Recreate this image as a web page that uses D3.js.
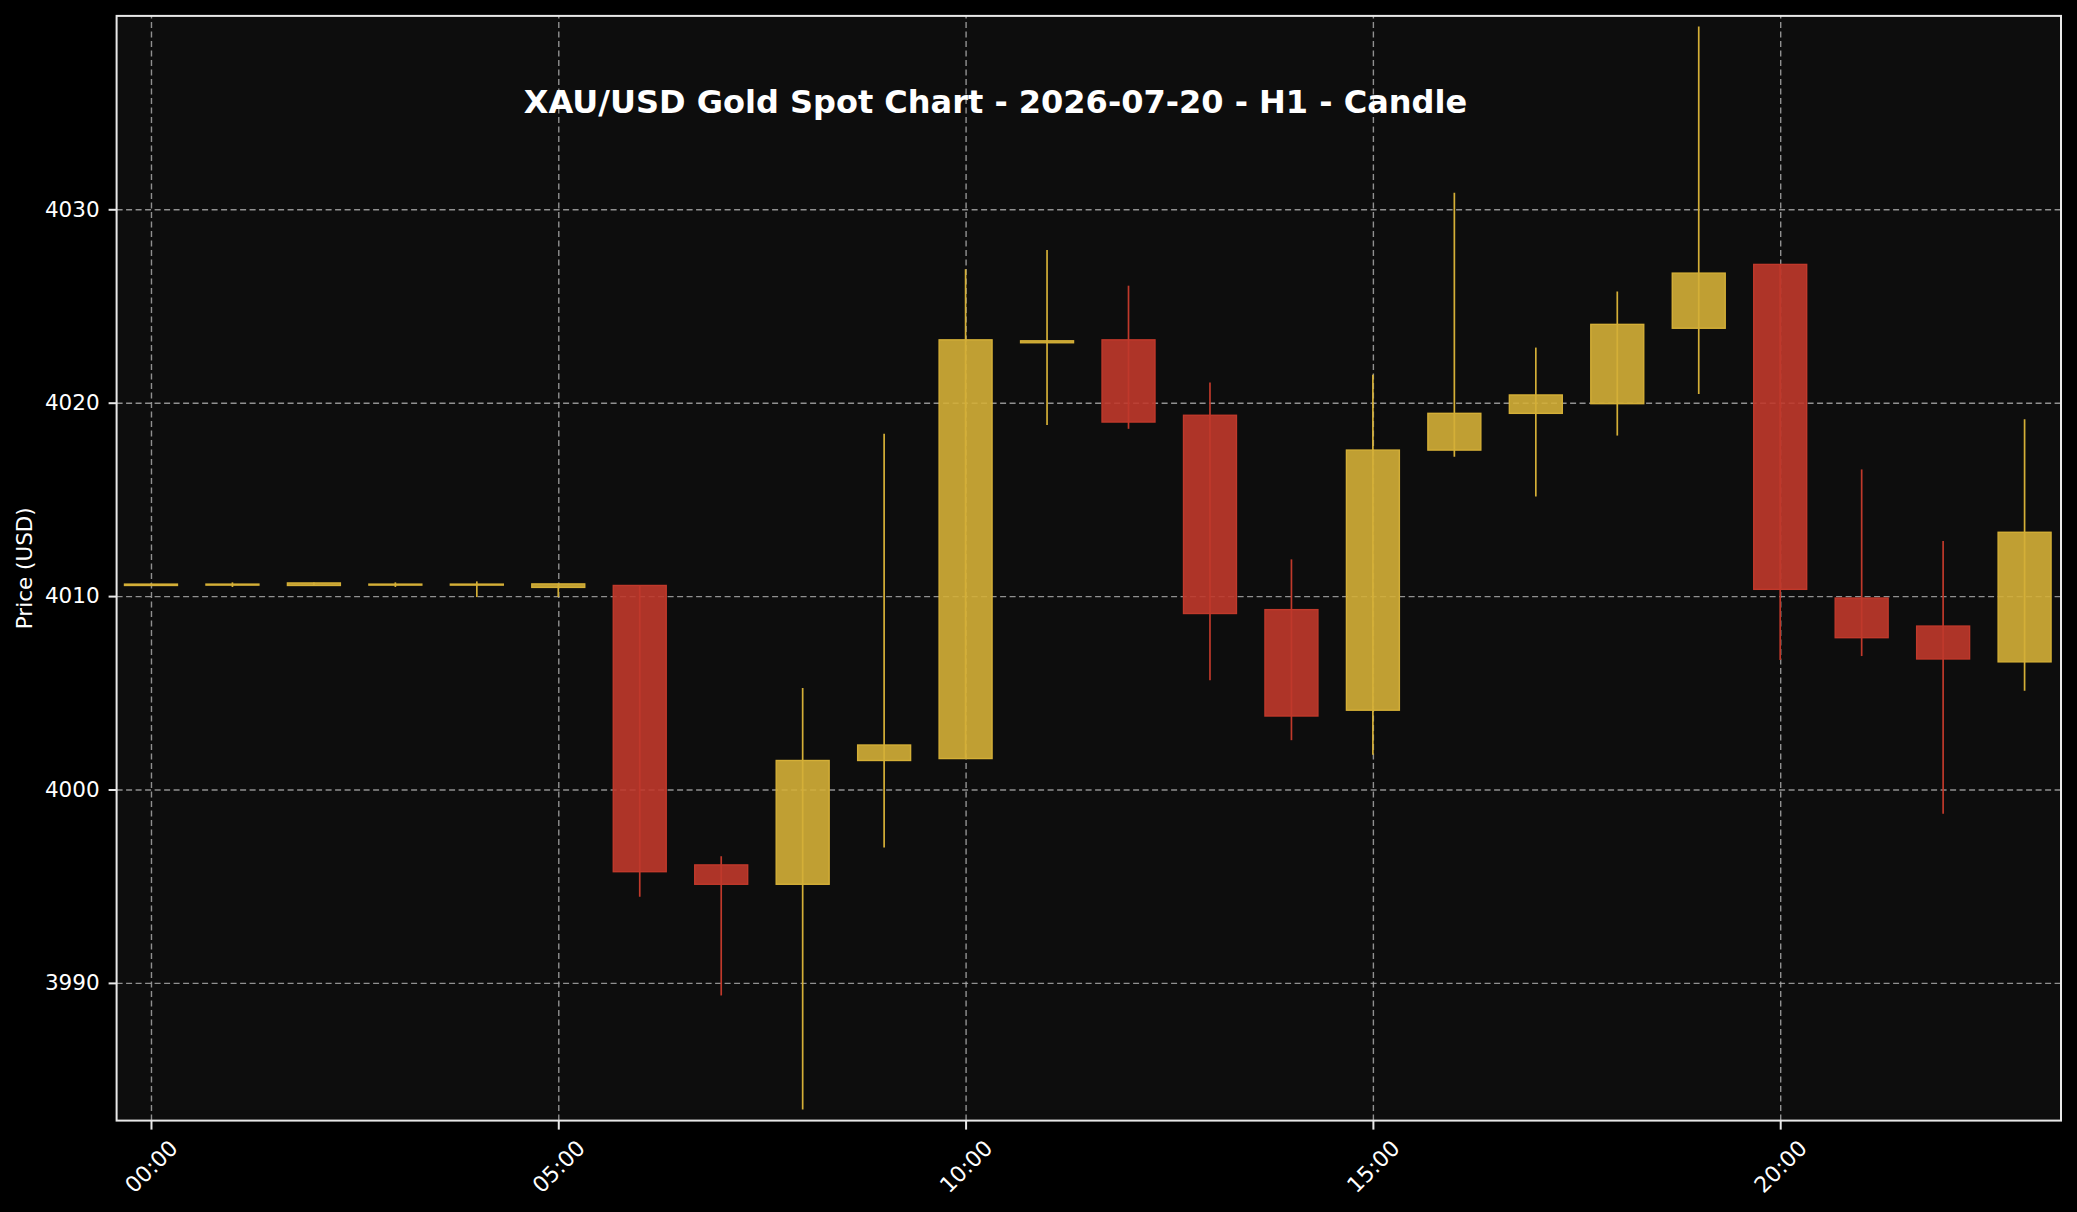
<!DOCTYPE html>
<html>
<head>
<meta charset="utf-8">
<script src="https://cdn.jsdelivr.net/npm/d3@7"></script>
<style>
  body { margin: 0; background: #000; }
  svg { display: block; }
</style>
</head>
<body>
<div id="chart"></div>
<script>
// hourly candles, 2026-07-20
var hours = [0, 1, 2, 3, 4, 5, 6, 7, 8, 9, 10, 11, 12, 13, 14, 15, 16, 17, 18, 19, 20, 21, 22, 23]
var opens = [4010.55, 4010.58, 4010.55, 4010.58, 4010.58, 4010.45, 4010.55, 3996.1, 3995.1, 4001.5, 4001.6, 4023.1, 4023.25, 4019.35, 4009.3, 4004.1, 4017.55, 4019.45, 4019.95, 4023.85, 4027.15, 4009.9, 4008.45, 4006.6]
var highs = [4010.65, 4010.71, 4010.7, 4010.71, 4010.76, 4010.65, 4010.55, 3996.55, 4005.25, 4018.4, 4026.9, 4027.9, 4026.05, 4021.05, 4011.9, 4021.45, 4030.85, 4022.85, 4025.75, 4039.45, 4027.15, 4016.55, 4012.85, 4019.15]
var lows = [4010.55, 4010.47, 4010.55, 4010.47, 4009.95, 4009.95, 3994.45, 3989.35, 3983.45, 3997.0, 4001.6, 4018.85, 4018.65, 4005.65, 4002.55, 4001.8, 4017.2, 4015.15, 4018.3, 4020.45, 4006.7, 4006.9, 3998.75, 4005.1]
var closes = [4010.62, 4010.62, 4010.68, 4010.62, 4010.62, 4010.63, 3995.75, 3995.1, 4001.5, 4002.3, 4023.25, 4023.2, 4019.0, 4009.1, 4003.8, 4017.55, 4019.45, 4020.4, 4024.05, 4026.7, 4010.35, 4007.85, 4006.75, 4013.3]

var xTicks = [0, 5, 10, 15, 20]
var xTickLabels = ['00:00', '05:00', '10:00', '15:00', '20:00']
var yTicks = [3990, 4000, 4010, 4020, 4030]

var title = 'XAU/USD Gold Spot Chart - 2026-07-20 - H1 - Candle'

var W = 2077
var H = 1212
var margin = { top: 15.9, right: 16, bottom: 91.4, left: 116.6 }
var width = W - margin.left - margin.right
var height = H - margin.top - margin.bottom

var upColor = '#d4af37'
var downColor = '#c0392b'
var font = 'DejaVu Sans, sans-serif'

var candles = hours.map(function(h, i) {
  return { hour: h, open: opens[i], high: highs[i], low: lows[i], close: closes[i] }
})

var svg = d3
  .select('#chart')
  .append('svg')
  .attr('width', W)
  .attr('height', H)
  .style('background', '#000')

var g = svg
  .append('g')
  .attr('transform', 'translate(' + margin.left + ',' + margin.top + ')')

g.append('rect')
  .attr('width', width)
  .attr('height', height)
  .attr('fill', '#0d0d0d')

var x = d3.scaleLinear().domain([-0.422, 23.447]).range([0, width])
var y = d3.scaleLinear().domain([3982.88, 4040.0]).range([height, 0])

// grid
g.append('g')
  .attr('class', 'grid')
  .call(d3.axisLeft(y).tickValues(yTicks).tickSize(-width).tickFormat(''))
  .call(function(s) { s.select('.domain').remove() })
g.append('g')
  .attr('class', 'grid')
  .attr('transform', 'translate(0,' + height + ')')
  .call(d3.axisBottom(x).tickValues(xTicks).tickSize(-height).tickFormat(''))
  .call(function(s) { s.select('.domain').remove() })
g.selectAll('.grid line')
  .attr('stroke', '#a8a8a8')
  .attr('stroke-opacity', 0.85)
  .attr('stroke-width', 1.4)
  .attr('stroke-dasharray', '6,3.5')

// candles
var bw = x(0.65) - x(0)

var c = g
  .selectAll('.candle')
  .data(candles)
  .enter()
  .append('g')
  .attr('class', 'candle')

c.append('line')
  .attr('x1', function(d) { return x(d.hour) })
  .attr('x2', function(d) { return x(d.hour) })
  .attr('y1', function(d) { return y(d.high) })
  .attr('y2', function(d) { return y(d.low) })
  .attr('stroke', function(d) { return d.close >= d.open ? upColor : downColor })
  .attr('stroke-width', 1.7)

c.append('rect')
  .attr('x', function(d) { return x(d.hour) - bw / 2 })
  .attr('y', function(d) { return y(Math.max(d.open, d.close)) })
  .attr('width', bw)
  .attr('height', function(d) {
    return Math.max(1, Math.abs(y(d.open) - y(d.close)))
  })
  .attr('fill', function(d) { return d.close >= d.open ? upColor : downColor })
  .attr('fill-opacity', 0.9)
  .attr('stroke', function(d) { return d.close >= d.open ? upColor : downColor })
  .attr('stroke-width', 1.4)

// frame
g.append('rect')
  .attr('width', width)
  .attr('height', height)
  .attr('fill', 'none')
  .attr('stroke', '#e8e8e8')
  .attr('stroke-width', 2)

// axes
var xAxis = g
  .append('g')
  .attr('transform', 'translate(0,' + height + ')')
  .call(
    d3
      .axisBottom(x)
      .tickValues(xTicks)
      .tickSize(9)
      .tickFormat(function(d, i) { return xTickLabels[i] })
  )
xAxis.select('.domain').remove()
xAxis.selectAll('line').attr('stroke', '#e8e8e8').attr('stroke-width', 2)
xAxis
  .selectAll('text')
  .attr('fill', '#fff')
  .style('font-family', font)
  .style('font-size', '22px')
  .attr('text-anchor', 'middle')
  .attr('dominant-baseline', 'central')
  .attr('dy', null)
  .attr('y', 0)
  .attr('transform', 'translate(0,46) rotate(-45)')

var yAxis = g
  .append('g')
  .call(
    d3
      .axisLeft(y)
      .tickValues(yTicks)
      .tickSize(8)
      .tickPadding(9)
      .tickFormat(d3.format('d'))
  )
yAxis.select('.domain').remove()
yAxis.selectAll('line').attr('stroke', '#e8e8e8').attr('stroke-width', 2)
yAxis
  .selectAll('text')
  .attr('fill', '#fff')
  .style('font-family', font)
  .style('font-size', '21.5px')

svg
  .append('text')
  .attr('transform', 'translate(24,' + (margin.top + height / 2) + ') rotate(-90)')
  .attr('text-anchor', 'middle')
  .attr('dominant-baseline', 'central')
  .attr('fill', '#fff')
  .style('font-family', font)
  .style('font-size', '21.5px')
  .text('Price (USD)')

g.append('text')
  .attr('x', width * 0.452)
  .attr('y', 113 - margin.top)
  .attr('text-anchor', 'middle')
  .attr('fill', '#fff')
  .style('font-family', font)
  .style('font-size', '32px')
  .style('font-weight', 'bold')
  .text(title)
</script>
</body>
</html>
